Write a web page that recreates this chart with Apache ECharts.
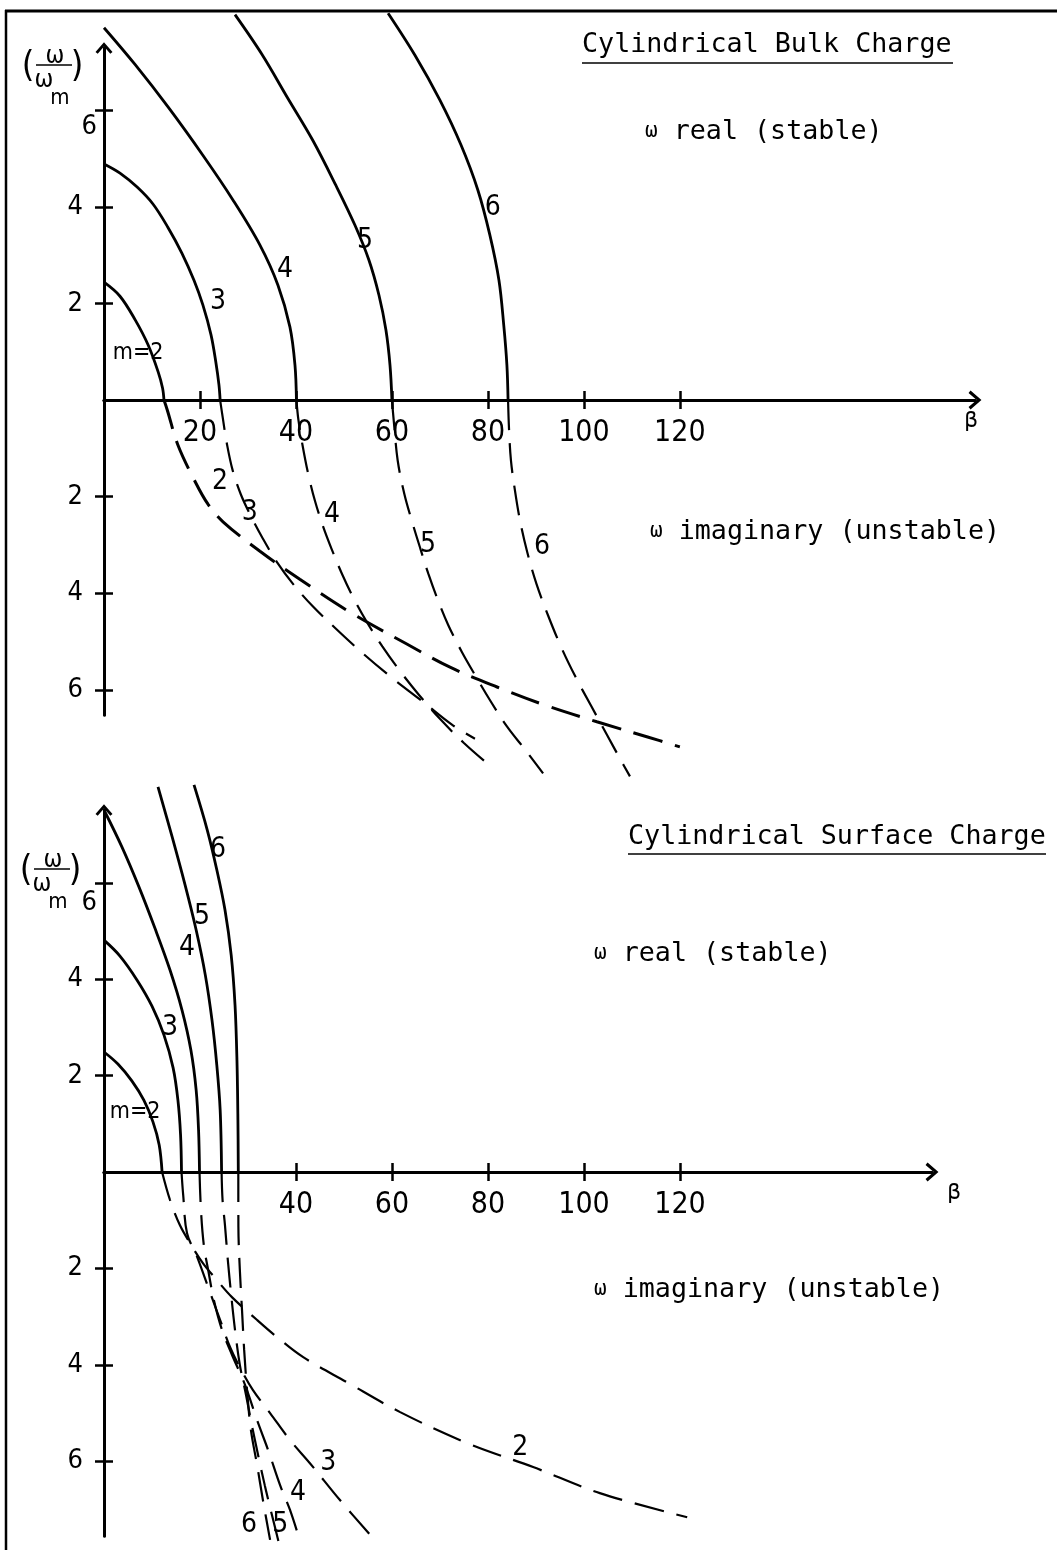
<!DOCTYPE html>
<html><head><meta charset="utf-8">
<script src="https://cdn.jsdelivr.net/npm/echarts@6/dist/echarts.min.js"></script>
<style>html,body{margin:0;padding:0;background:#fff}#c{width:1057px;height:1550px}</style>
</head><body><div id="c"></div>
<script>
// ---------- tick values ----------
const bulkXTicks = [20, 40, 60, 80, 100, 120];
const surfXTicks = [40, 60, 80, 100, 120];
const yTicks = [-6, -4, -2, 2, 4, 6];

// ---------- Cylindrical Bulk Charge: [beta, omega] (omega<0 = imaginary branch) ----------
const bulkReal2 = [[0,2.44],[3.33,2.15],[6.5,1.66],[9.2,1.14],[11.3,0.58],[12.2,0.25],[12.5,0]];
const bulkReal3 = [[0,4.89],[3.33,4.7],[6.9,4.41],[10.2,4.06],[13.3,3.58],[16.25,3.04],[18.75,2.48],[20.6,1.97],[22.3,1.35],[23.3,0.79],[23.96,0.31],[24.2,0]];
const bulkReal4 = [[0,7.71],[6.46,6.95],[13.5,6.05],[20.6,5.07],[26.9,4.14],[32.5,3.21],[36.25,2.38],[38.75,1.51],[39.8,0.72],[40.1,0]];
const bulkReal5 = [[27.3,7.98],[32.9,7.16],[38.3,6.25],[43.5,5.38],[48.3,4.45],[52.3,3.62],[55.2,2.9],[57.3,2.17],[58.75,1.45],[59.6,0.72],[60,0]];
const bulkReal6 = [[59.2,8.01],[64.8,7.14],[70,6.21],[74.4,5.28],[77.9,4.35],[80.4,3.42],[82.3,2.48],[83.3,1.55],[83.96,0.72],[84.2,0]];

const bulkImag2 = [[12.5,0],[13.2,-0.21],[15.4,-0.93],[19.0,-1.69],[21.7,-2.16],[24.8,-2.52],[32.5,-3.13],[40.8,-3.71],[51.25,-4.39],[63.1,-5.05],[72.1,-5.53],[81.9,-5.94],[92.3,-6.33],[102.7,-6.66],[113.1,-6.97],[120,-7.18]];
const bulkImag3 = [[24.2,0],[24.8,-0.4],[25.6,-0.9],[26.8,-1.45],[28.5,-1.95],[30.6,-2.4],[33.0,-2.85],[36.0,-3.35],[39.5,-3.82],[43.5,-4.27],[48.5,-4.75],[54,-5.25],[60,-5.75],[66.5,-6.25],[72.5,-6.72],[77.3,-7.01]];
const bulkImag4 = [[40.1,0],[40.5,-0.4],[41.4,-0.95],[42.6,-1.55],[44.0,-2.1],[45.6,-2.6],[47.5,-3.1],[49.6,-3.6],[52.0,-4.1],[54.8,-4.6],[58.0,-5.1],[61.6,-5.6],[65.6,-6.1],[70.0,-6.6],[75.0,-7.1],[80.4,-7.57]];
const bulkImag5 = [[60,0],[60.4,-0.45],[61.2,-1.25],[62.6,-1.95],[64.3,-2.55],[66.0,-3.1],[67.6,-3.6],[69.5,-4.12],[71.7,-4.65],[74.6,-5.22],[77.6,-5.74],[80.6,-6.24],[84.0,-6.76],[88.0,-7.27],[91.5,-7.73]];
const bulkImag6 = [[84.2,0],[84.4,-0.6],[84.8,-1.25],[85.6,-1.85],[86.7,-2.5],[88.2,-3.15],[90.1,-3.8],[92.5,-4.45],[95.2,-5.1],[98.2,-5.72],[101.5,-6.33],[104.8,-6.93],[107.5,-7.42],[109.6,-7.79]];

// ---------- Cylindrical Surface Charge ----------
const surfReal2 = [[0,2.49],[2.9,2.24],[5.8,1.89],[8.3,1.49],[10.2,1.04],[11.5,0.56],[12.1,0]];
const surfReal3 = [[0,4.81],[3.33,4.48],[6.9,3.98],[10,3.44],[12.5,2.84],[14.4,2.16],[15.4,1.49],[15.95,0.77],[16.15,0]];
const surfReal4 = [[0,7.51],[3.75,6.74],[7.3,5.91],[10.6,5.06],[13.75,4.19],[16.25,3.36],[18.1,2.53],[19.2,1.7],[19.7,0.87],[19.9,0]];
const surfReal5 = [[11.25,7.99],[14.2,6.95],[16.9,5.95],[19.2,5.02],[21.1,4.09],[22.5,3.15],[23.5,2.22],[24.2,1.29],[24.5,0]];
const surfReal6 = [[18.75,8.03],[21.5,7.1],[23.5,6.27],[25.2,5.44],[26.5,4.5],[27.3,3.46],[27.7,2.32],[27.9,1.08],[27.98,0]];

const surfImag2 = [[12.1,0],[13.75,-0.58],[15.8,-1.1],[17.9,-1.47],[20.6,-1.89],[23.5,-2.24],[26.7,-2.6],[31.9,-3.07],[36,-3.42],[41.5,-3.84],[50.6,-4.36],[61.7,-4.98],[75.6,-5.62],[89.4,-6.12],[103.3,-6.66],[121.5,-7.16]];
const surfImag3 = [[16.15,0],[16.5,-0.48],[17.3,-1.27],[19.4,-1.76],[22.1,-2.5],[24.2,-3.07],[26.25,-3.63],[28.3,-4.05],[31.0,-4.52],[34.6,-5.0],[38.75,-5.56],[42.9,-6.04],[49.2,-6.81],[56.0,-7.59]];
const surfImag4 = [[19.9,0],[20.2,-0.79],[20.8,-1.52],[21.7,-2.03],[22.9,-2.66],[24.6,-3.28],[26.7,-3.8],[29.4,-4.42],[31.9,-5.15],[34.2,-5.77],[36.7,-6.5],[38.75,-7.01],[40.8,-7.64]];
const surfImag5 = [[24.5,0],[24.7,-0.58],[25.2,-1.1],[25.8,-1.83],[26.5,-2.55],[27.3,-3.28],[28.3,-4.0],[29.6,-4.63],[30.8,-5.25],[32.1,-5.87],[33.5,-6.5],[35.0,-7.12],[36.7,-7.8]];
const surfImag6 = [[27.98,0],[28.0,-1.14],[28.3,-2.03],[28.75,-2.86],[29.2,-3.69],[29.8,-4.52],[30.6,-5.35],[31.9,-6.08],[33.1,-6.8],[34.6,-7.63]];

// ---------- curve labels: [beta, omega, text] ----------
const bulkLabels = [[7.1,0.97,'m=2'],[23.75,2.03,'3'],[37.7,2.69,'4'],[54.4,3.31,'5'],[81.0,3.98,'6'],
  [24.2,-1.70,'2'],[30.4,-2.34,'3'],[47.5,-2.38,'4'],[67.5,-3.0,'5'],[91.25,-3.04,'6']];
const surfLabels = [[6.5,1.24,'m=2'],[13.75,2.99,'3'],[17.3,4.65,'4'],[20.4,5.29,'5'],[23.75,6.68,'6'],
  [86.7,-5.71,'2'],[46.7,-6.02,'3'],[40.4,-6.66,'4'],[36.7,-7.32,'5'],[30.2,-7.32,'6']];

// ---------- styling ----------
const NARROW = '"Liberation Sans Narrow","DejaVu Sans Condensed","Roboto Condensed","Liberation Sans",sans-serif';
const MONO = '"DejaVu Sans Mono","Liberation Mono",monospace';
const INK = '#000';
const CHEVRON = 'path://M10,0 L20,11.5 L17.4,13.6 L10,5 L2.6,13.6 L0,11.5 Z';
const DASH = [30, 13];

const grids = [
  { left: 104, top: 48, width: 871, height: 667, yMin: -6.52, yMax: 7.29, xMax: 181.5 },
  { left: 104, top: 810, width: 828, height: 726, yMin: -7.55, yMax: 7.51, xMax: 172.5 }
];
function zeroOffset(g) { return -(0 - g.yMin) / (g.yMax - g.yMin) * g.height; }

function xAxisPair(gi, ticks, nameGap) {
  const g = grids[gi], off = zeroOffset(g);
  return [{
    type: 'value', gridIndex: gi, min: 0, max: g.xMax, position: 'bottom', offset: off,
    axisLine: { show: true, onZero: false, symbol: ['none', CHEVRON], symbolSize: [19, 15],
      lineStyle: { color: INK, width: 3 } },
    axisTick: { show: true, customValues: ticks, length: 9, lineStyle: { color: INK, width: 2.5 } },
    axisLabel: { show: true, customValues: ticks, margin: 18, color: INK, fontSize: 30, fontFamily: NARROW },
    splitLine: { show: false },
    name: 'β', nameLocation: 'end', nameGap: nameGap,
    nameTextStyle: { color: INK, fontSize: 22, fontFamily: MONO, align: 'center', verticalAlign: 'top', padding: [10, 0, 0, 0] }
  }, {
    type: 'value', gridIndex: gi, min: 0, max: g.xMax, position: 'bottom', offset: off,
    axisLine: { show: true, onZero: false, lineStyle: { color: INK, width: 3 } },
    axisTick: { show: true, inside: true, customValues: ticks, length: 9, lineStyle: { color: INK, width: 2.5 } },
    axisLabel: { show: false }, splitLine: { show: false }
  }];
}
function yAxisPair(gi, sixPad) {
  const g = grids[gi];
  return [{
    type: 'value', gridIndex: gi, min: g.yMin, max: g.yMax, position: 'left',
    axisLine: { show: true, onZero: false, symbol: ['none', CHEVRON], symbolSize: [17, 14],
      lineStyle: { color: INK, width: 3 } },
    axisTick: { show: true, customValues: yTicks, length: 9, lineStyle: { color: INK, width: 2.5 } },
    axisLabel: { show: true, customValues: yTicks, margin: 7, color: INK,
      formatter: v => v === 6 ? '{s|6}' : '{n|' + Math.abs(v) + '}',
      rich: { n: { fontSize: 27, fontFamily: NARROW, color: INK, padding: [0, 14, 0, 0] },
              s: { fontSize: 27, fontFamily: NARROW, color: INK, padding: [sixPad, 0, 0, 0] } } },
    splitLine: { show: false }
  }, {
    type: 'value', gridIndex: gi, min: g.yMin, max: g.yMax, position: 'left',
    axisLine: { show: true, onZero: false, lineStyle: { color: INK, width: 3 } },
    axisTick: { show: true, inside: true, customValues: yTicks, length: 9, lineStyle: { color: INK, width: 2.5 } },
    axisLabel: { show: false }, splitLine: { show: false }
  }];
}

const series = [];
function addCurve(gi, data, dashed, width) {
  series.push({
    type: 'line', xAxisIndex: gi * 2, yAxisIndex: gi * 2, data: data,
    smooth: 0.35, symbol: 'none', clip: false, silent: true,
    lineStyle: { color: INK, width: width, type: dashed ? DASH : 'solid', cap: 'butt' }
  });
}
function addLabels(gi, labels) {
  series.push({
    type: 'scatter', xAxisIndex: gi * 2, yAxisIndex: gi * 2, clip: false, silent: true,
    symbolSize: 0.5, itemStyle: { color: '#fff' },
    data: labels.map(l => ({ value: [l[0], l[1]], name: l[2],
      label: { fontSize: l[2].length > 1 ? 23 : 28 } })),
    label: { show: true, position: 'inside', color: INK, opacity: 1, textBorderWidth: 0,
      fontFamily: NARROW, formatter: p => p.name }
  });
}

[bulkReal2, bulkReal3, bulkReal4, bulkReal5, bulkReal6].forEach(d => addCurve(0, d, false, 2.8));
addCurve(0, bulkImag2, true, 3);
[bulkImag3, bulkImag4, bulkImag5, bulkImag6].forEach(d => addCurve(0, d, true, 2.2));
addLabels(0, bulkLabels);
[surfReal2, surfReal3, surfReal4, surfReal5, surfReal6].forEach(d => addCurve(1, d, false, 2.8));
[surfImag2, surfImag3, surfImag4, surfImag5, surfImag6].forEach(d => addCurve(1, d, true, 2.2));
addLabels(1, surfLabels);

function fracLabel(cx, cy) {
  const t = (x, y, s, fs) => ({ type: 'text', x: x, y: y,
    style: { text: s, fontSize: fs, fontFamily: NARROW, fill: INK, align: 'center', verticalAlign: 'middle' } });
  return [
    t(cx - 24, cy + 1, '(', 36),
    t(cx + 3, cy - 10, 'ω', 25),
    { type: 'line', shape: { x1: cx - 16, y1: cy - 1, x2: cx + 20, y2: cy - 1 }, style: { stroke: INK, lineWidth: 1.4 } },
    t(cx - 8, cy + 14, 'ω', 25),
    t(cx + 8, cy + 32, 'm', 22),
    t(cx + 25, cy + 1, ')', 36)
  ];
}
function monoText(x, y, s) {
  return { type: 'text', x: x, y: y, style: { text: s, fontSize: 26.7, fontFamily: MONO, fill: INK,
    align: 'left', verticalAlign: 'middle', rich: { w: { fontSize: 21, fontFamily: MONO, fill: INK } } } };
}

const graphic = [
  { type: 'line', shape: { x1: 5, y1: 11, x2: 1057, y2: 11 }, style: { stroke: INK, lineWidth: 3 } },
  { type: 'line', shape: { x1: 6, y1: 10, x2: 6, y2: 1550 }, style: { stroke: INK, lineWidth: 2.5 } },
  monoText(582, 45, 'Cylindrical Bulk Charge'),
  { type: 'line', shape: { x1: 582, y1: 63, x2: 953, y2: 63 }, style: { stroke: INK, lineWidth: 1.5 } },
  monoText(645, 132, '{w|ω} real (stable)'),
  monoText(650, 532, '{w|ω} imaginary (unstable)'),
  monoText(628, 837, 'Cylindrical Surface Charge'),
  { type: 'line', shape: { x1: 628, y1: 854, x2: 1046, y2: 854 }, style: { stroke: INK, lineWidth: 1.5 } },
  monoText(594, 954, '{w|ω} real (stable)'),
  monoText(594, 1290, '{w|ω} imaginary (unstable)')
].concat(fracLabel(52, 66), fracLabel(50, 870));

const chart = echarts.init(document.getElementById('c'), null, { renderer: 'canvas' });
chart.setOption({
  backgroundColor: '#fff',
  animation: false,
  grid: grids.map(g => ({ left: g.left, top: g.top, width: g.width, height: g.height,
    containLabel: false, outerBoundsMode: 'none' })),
  xAxis: [].concat(xAxisPair(0, bulkXTicks, -4), xAxisPair(1, surfXTicks, 22)),
  yAxis: [].concat(yAxisPair(0, 34), yAxisPair(1, 40)),
  series: series,
  graphic: graphic
});
</script></body></html>
